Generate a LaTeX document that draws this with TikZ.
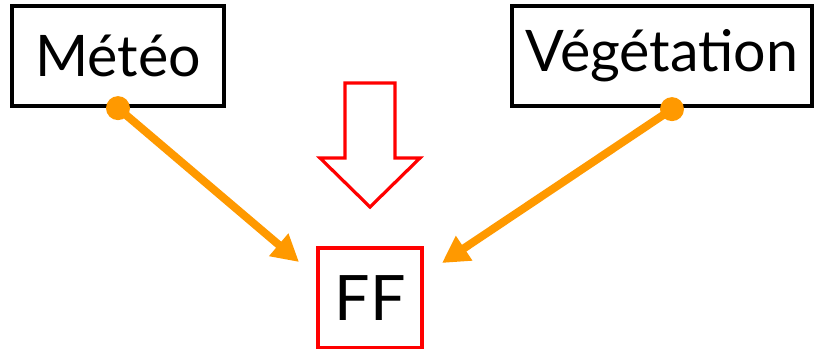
\documentclass[tikz,border=0pt]{standalone}
\usepackage{fontspec}
\setmainfont{Lato}
\usetikzlibrary{arrows.meta,calc}
\definecolor{flame}{RGB}{255,153,0}
\definecolor{alert}{RGB}{255,0,0}
\begin{document}
\begin{tikzpicture}[x=0.75pt,y=-0.75pt,
  labelbox/.style={draw=black,line width=3.2pt,inner sep=0pt,
    font=\fontsize{43}{45}\selectfont,minimum height=75pt},
  targetbox/.style={draw=alert,line width=3pt,inner sep=0pt,
    font=\fontsize{47}{49}\selectfont,minimum width=78pt,minimum height=75pt},
  feed/.style={draw=flame,line width=6pt,
    -{Triangle[length=20pt,width=21pt]}},
  feeddot/.style={fill=flame},
  hollow/.style={draw=alert,line width=2.4pt,line join=miter,fill=white}]
\useasboundingbox (0,0) rectangle (817,349);

% source boxes and the target box
\node[labelbox,minimum width=159pt] (meteo) at (118,56) {Météo};
\node[labelbox,minimum width=225pt] (veg) at (662,56) {Végétation};
\node[targetbox] (ff) at (370,298) {FF};

% connector ends
\coordinate (mstart) at (meteo.south);
\coordinate (vstart) at ($(veg.south)+(10,1)$);
\coordinate (mend) at ($(ff.north west)+(-17,16)$);
\coordinate (vend) at ($(ff.north east)+(18,17)$);

% orange connectors with round dots at their start
\draw[feed] (mstart) -- (mend);
\draw[feed] (vstart) -- (vend);
\fill[feeddot] (mstart) circle (9pt);
\fill[feeddot] (vstart) circle (9pt);

% hollow red arrow above the target
\coordinate (atop) at (370,83);
\draw[hollow] (atop) ++(-25,0) -- ++(50,0) -- ++(0,75) -- ++(25,0)
  -- ++(-50,49) -- ++(-50,-49) -- ++(25,0) -- cycle;
\end{tikzpicture}
\end{document}
